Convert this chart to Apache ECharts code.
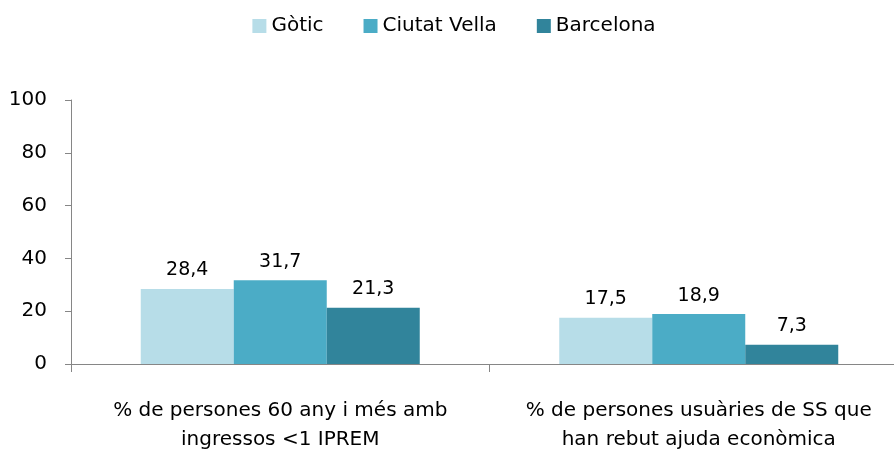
<!DOCTYPE html>
<html>
<head>
<meta charset="utf-8">
<script src="https://cdn.jsdelivr.net/npm/echarts@6/dist/echarts.min.js"></script>
<style>
  html, body { margin: 0; padding: 0; background: #fff; overflow: hidden; }
  /* el gràfic original continua una mica per la dreta */
  #chart { width: 908px; height: 450px; }
</style>
</head>
<body>
<div id="chart"></div>
<script>
// dades
const categories = ['% de persones 60 any i més amb\ningressos <1 IPREM', '% de persones usuàries de SS que\nhan rebut ajuda econòmica'];
const gotic = [28.4, 17.5];
const ciutatVella = [31.7, 18.9];
const barcelona = [21.3, 7.3];
const seriesNames = ['Gòtic', 'Ciutat Vella', 'Barcelona'];
const colors = ['#b7dde8', '#4bacc6', '#31849b'];

const font = 'DejaVu Sans';

function serie(name, data, color) {
  return {
    name: name,
    type: 'bar',
    data: data,
    barWidth: 93,
    barGap: '0%',
    itemStyle: { color: color },
    label: {
      show: true,
      position: 'top',
      distance: 9,
      color: '#000',
      fontFamily: font,
      fontSize: 19,
      formatter: p => p.value.toFixed(1).replace('.', ',')
    }
  };
}

var myChart = echarts.init(document.getElementById('chart'));
var option = {
  animation: false,
  legend: {
    data: seriesNames,
    top: 11,
    left: 'center',
    itemWidth: 14,
    itemHeight: 14,
    itemGap: 40,
    icon: 'rect',
    textStyle: { fontFamily: font, fontSize: 20, color: '#000' }
  },
  grid: { left: 71, right: 0, top: 100, bottom: 86, outerBoundsMode: 'none', containLabel: false },
  xAxis: {
    type: 'category',
    data: categories,
    axisLine: { lineStyle: { color: '#868686' } },
    axisTick: { show: true, interval: 0, length: 8, lineStyle: { color: '#868686' } },
    axisLabel: { interval: 0, fontFamily: font, fontSize: 20, color: '#000', margin: 32, lineHeight: 29 }
  },
  yAxis: {
    type: 'value',
    min: 0,
    max: 100,
    interval: 20,
    axisLine: { show: true, lineStyle: { color: '#868686' } },
    axisTick: { show: true, length: 6, lineStyle: { color: '#868686' } },
    splitLine: { show: false },
    axisLabel: { fontFamily: font, fontSize: 20, color: '#000', margin: 24 }
  },
  series: [
    serie(seriesNames[0], gotic, colors[0]),
    serie(seriesNames[1], ciutatVella, colors[1]),
    serie(seriesNames[2], barcelona, colors[2])
  ]
};
myChart.setOption(option);
</script>
</body>
</html>
